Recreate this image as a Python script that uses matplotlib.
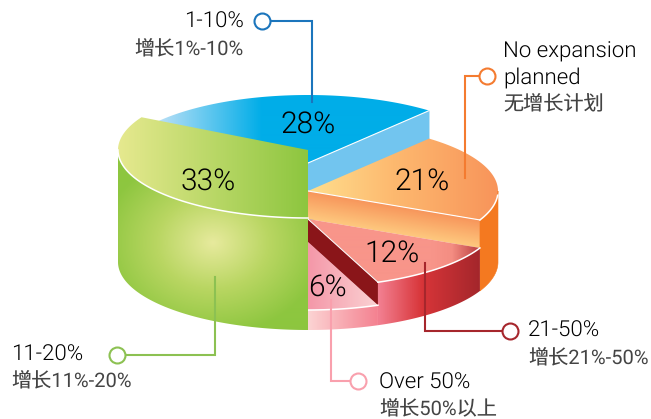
import numpy as np
import matplotlib
matplotlib.use('Agg')
import matplotlib.pyplot as plt
from matplotlib.colors import LinearSegmentedColormap, to_rgb
from matplotlib.patches import Polygon

plt.rcParams['font.family'] = ['Roboto', 'Noto Sans CJK SC', 'DejaVu Sans']
plt.rcParams['text.hinting'] = 'none'

categories = ['1-10%', 'No expansion\nplanned', '21-50%', 'Over 50%', '11-20%']
subtitles = ['增长1%-10%', '无增长计划', '增长21%-50%', '增长50%以上', '增长11%-20%']
shares = [28, 21, 12, 6, 33]

W, H = 651, 419
CX, RX, RY = 308, 190, 68
FLOOR = 262                      # centre of the bottom ellipse
heights = [99, 71, 43, 20, 112]  # each slice is extruded to its own height
START = 151.2

fig = plt.figure(figsize=(W / 100, H / 100), dpi=100)
ax = fig.add_axes([0, 0, 1, 1])
ax.set_xlim(0, W)
ax.set_ylim(H, 0)
ax.axis('off')

yy, xx = np.mgrid[0:H, 0:W] + 0.5

# wedge boundaries in degrees, running clockwise on screen
edges = START - np.cumsum([0] + shares) * 3.6
tops = [FLOOR - h for h in heights]


def arc(a0, a1, cy, n=120):
    t = np.radians(np.linspace(a0, a1, n))
    return np.column_stack([CX + RX * np.cos(t), cy - RY * np.sin(t)])


def fill(points, field, stops, z):
    """Paint a polygon with a gradient; stops are (position, colour)."""
    cmap = LinearSegmentedColormap.from_list('g', [(p, to_rgb(c)) for p, c in stops])
    poly = Polygon(points, closed=True, transform=ax.transData, fc='none', ec='none')
    ax.add_patch(poly)
    im = ax.imshow(np.clip(field, 0, 1), cmap=cmap, vmin=0, vmax=1, extent=(0, W, H, 0),
                   aspect='auto', interpolation='bilinear', zorder=z)
    im.set_clip_path(poly)


def flat(points, color, z):
    ax.add_patch(Polygon(points, closed=True, fc=color, ec=color, lw=0.4, zorder=z))


def ramp(a, b):
    return (xx - a) / (b - a)


def top_face(i):
    return np.vstack([[CX, tops[i]], arc(edges[i], edges[i + 1], tops[i])])


def cut_face(i, drop):
    # the straight wall under the clockwise edge of slice i
    p = arc(edges[i + 1], edges[i + 1], tops[i], 1)[0]
    return np.array([[CX, tops[i]], p, p + [0, drop], [CX, tops[i] + drop]])


def outer_wall(i, a0, a1):
    return np.vstack([arc(a0, a1, tops[i]), arc(a1, a0, FLOOR)])


# 1-10%
fill(top_face(0), ramp(160, 262), [(0, '#b7dff6'), (1, '#00ade8')], 2)
flat(cut_face(0, 60), '#72c5ef', 1)

# no expansion
fill(top_face(1), ramp(308, 498),
     [(0, '#ffdf8e'), (0.45, '#fdb96f'), (1, '#f8945a')], 4)
face = cut_face(1, tops[2] - tops[1])
slope = (face[1, 1] - face[0, 1]) / (face[1, 0] - face[0, 0])
fill(face, (yy - slope * (xx - CX) - tops[1]) / (tops[2] - tops[1]),
     [(0, '#f7945a'), (1, '#fec87e')], 4)
flat(outer_wall(1, 0, edges[2]), '#f47920', 4)

# 21-50%
fill(top_face(2), ramp(432, 482),
     [(0, '#f8958a'), (0.4, '#f48d82'), (1, '#b5373a')], 5)
flat(cut_face(2, tops[3] - tops[2]), '#8a1519', 5)
fill(outer_wall(2, edges[2], edges[3]), ramp(379, 481),
     [(0, '#f27f90'), (0.42, '#d83539'), (1, '#a3262b')], 5)

# over 50%
fill(top_face(3), ramp(308, 379), [(0, '#f497a8'), (1, '#fbd3d4')], 6)
fill(outer_wall(3, edges[3], edges[4]), ramp(308, 379),
     [(0, '#fcd4d4'), (1, '#f4808f')], 6)

# 11-20%
fill(top_face(4), ramp(118, 308), [(0, '#e6e98f'), (1, '#8dc63f')], 7)
rad = np.hypot((xx - 213) / 112, (yy - 243) / 92)
fill(outer_wall(4, edges[4], -180), rad,
     [(0, '#e7ea9d'), (0.5, '#b9d662'), (1, '#8dc63f')], 7)

# white highlights along the rims
rims = [(arc(edges[1], edges[2], tops[1])[85:], 4.5),
        (arc(edges[2], edges[3], tops[2]), 5.5),
        (arc(edges[3], edges[4], tops[3]), 6.5),
        (arc(-180, edges[4], tops[4]), 7.5)]
for rim, z in rims:
    ax.plot(rim[:, 0], rim[:, 1], color='white', lw=1.1, zorder=z)
for i in (0, 1, 2):
    p = arc(edges[i + 1], edges[i + 1], tops[i], 1)[0]
    ax.plot([CX, p[0]], [tops[i], p[1]], color='white', lw=0.8, zorder=4.5 + i)

# leader lines with hollow markers
leaders = [([262, 312, 312], [21, 21, 102], '#1b75bc'),
           ([487, 465, 465], [76, 76, 178], '#f47b30'),
           ([510, 425, 425], [331, 331, 263], '#a6262c'),
           ([358, 331, 331], [381, 381, 300], '#f9a0ad'),
           ([117, 215, 215], [355, 355, 277], '#8cc152')]
for lx, ly, c in leaders:
    ax.plot(lx, ly, color=c, lw=1.5, zorder=9, solid_joinstyle='miter')
    ax.plot(lx[0], ly[0], 'o', ms=11.5, mfc='white', mec=c, mew=1.5, zorder=10)

# percentage labels
pct_pos = [(308, 121), (422, 178), (392, 250), (327, 284), (208, 178)]
for v, (x, y) in zip(shares, pct_pos):
    ax.text(x, y, f'{v}%', fontsize=21.5, fontweight=300, color='black',
            ha='center', va='center_baseline', zorder=11)

# category labels, baselines set per line
label_pos = [(244, 28, 'right'), (503, 58, 'left'), (528, 337, 'left'), (379, 389, 'left'), (11, 361, 'left')]
sub_pos = [(244, 54, 'right'), (503, 109, 'left'), (528, 363, 'left'), (379, 414, 'left'), (11, 386, 'left')]
for name, (x, y, ha) in zip(categories, label_pos):
    for j, line in enumerate(name.split('\n')):
        ax.text(x, y + j * 26, line, fontsize=16, fontweight=300, color='black', ha=ha, va='baseline', zorder=11)
for name, (x, y, ha) in zip(subtitles, sub_pos):
    ax.text(x, y, name, fontsize=14.5, color='#444444', ha=ha, va='baseline', zorder=11)

fig.savefig('out.png', dpi=100)
